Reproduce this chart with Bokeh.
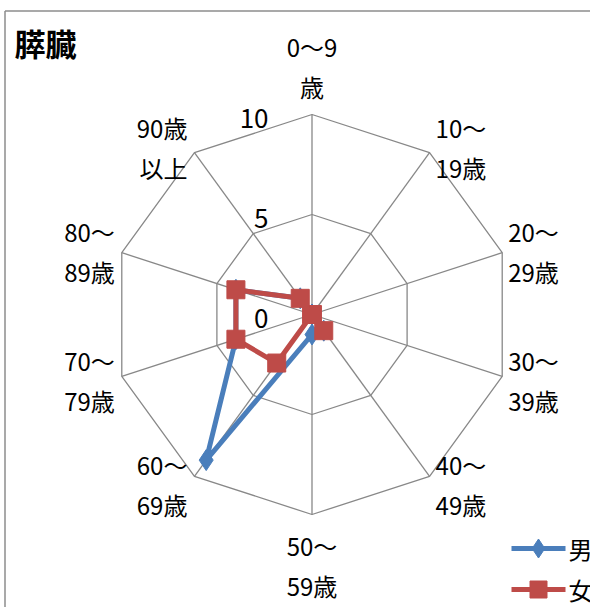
import math
from bokeh.plotting import figure
from bokeh.models import Range1d
from bokeh.core.properties import value
from bokeh.embed import file_html
from bokeh.resources import INLINE

# ---------------- data ----------------
title = "膵臓"
categories = ["0～9\n歳", "10～\n19歳", "20～\n29歳", "30～\n39歳", "40～\n49歳",
              "50～\n59歳", "60～\n69歳", "70～\n79歳", "80～\n89歳", "90歳\n以上"]
series_names = ["男", "女"]
male = [0, 0, 0, 0, 1, 1, 9, 4, 4, 1]
female = [0, 0, 0, 0, 1, 0, 3, 4, 4, 1]
ticks = [0, 5, 10]
tick_labels = ["0", "5", "10"]
vmax = 10

# ---------------- layout / style ----------------
W, H = 590, 607
OX, OY = 0, 0              # page position of figure's top-left corner
CX, CY = 311.5, 314.0      # page position of radar centre
S = 20.0                   # pixels per unit
FONT = value("Noto Sans CJK JP")
GRID = "#888888"
BLUE = "#4a7ebb"
RED = "#be4b48"

p = figure(width=W, height=H,
           x_range=Range1d(OX - CX, OX + W - CX),
           y_range=Range1d(CY - (OY + H), CY - OY),
           x_axis_type=None, y_axis_type=None,
           output_backend="svg", toolbar_location=None, min_border=0)
p.grid.visible = False
p.outline_line_color = None
p.background_fill_color = "white"
p.border_fill_color = "white"

def px(page_x):
    return page_x - CX

def py(page_y):
    return CY - page_y

n = len(categories)
ang = [2 * math.pi * i / n for i in range(n)]

def polar(vals):
    xs = [v * S * math.sin(a) for v, a in zip(vals, ang)]
    ys = [v * S * math.cos(a) for v, a in zip(vals, ang)]
    return xs, ys

# chart area border (top and left)
p.segment(x0=[px(4.5), px(4.5)], y0=[py(10.5), py(10.5)],
          x1=[px(620), px(4.5)], y1=[py(10.5), py(640)],
          line_color="#8c8c8c", line_width=1.5)

# rings and spokes
for t in ticks[1:]:
    xs, ys = polar([t] * n)
    p.line(xs + xs[:1], ys + ys[:1], line_color=GRID, line_width=1.3)
sx, sy = polar([vmax] * n)
p.segment(x0=[0] * n, y0=[0] * n, x1=sx, y1=sy, line_color=GRID, line_width=1.3)

# tick labels
p.text(x=[-43.5] * len(ticks), y=[t * S - 3.5 for t in ticks], text=tick_labels,
       text_font=FONT, text_font_size="26px", text_color="#000000",
       text_align="right", text_baseline="middle")

# series
mx, my = polar(male)
p.line(mx + mx[:1], my + my[:1], line_color=BLUE, line_width=5)
p.scatter(mx, my, marker="diamond", size=21, fill_color=BLUE, line_color=BLUE)
fx, fy = polar(female)
p.line(fx + fx[:1], fy + fy[:1], line_color=RED, line_width=5)
p.scatter(fx, fy, marker="square", size=18, fill_color=RED, line_color=RED)

# category labels (two lines each)
l1 = [c.split("\n")[0] for c in categories]
l2 = [c.split("\n")[1] for c in categories]
vx, vy = polar([vmax] * n)
for i in range(n):
    sa = math.sin(ang[i])
    ca = math.cos(ang[i])
    if abs(sa) < 1e-6:
        align = "center"
        x = vx[i]
        yc = vy[i] + (48 if ca > 0 else -51)
    else:
        align = "left" if sa > 0 else "right"
        x = vx[i] + (6 if sa > 0 else -7)
        yc = vy[i] - (1.5 - 8 * ca)
    p.text(x=[x, x], y=[yc + 19.75, yc - 19.75], text=[l1[i], l2[i]],
           text_font=FONT, text_font_size="24px", text_color="#000000",
           text_align=align, text_baseline="middle")

# title
p.text(x=[px(14)], y=[py(42)], text=[title], text_font=FONT, text_font_size="31px",
       text_font_style="bold", text_color="#000000", text_align="left",
       text_baseline="middle")

# legend
leg_y = [py(548), py(589)]
leg_colors = [BLUE, RED]
leg_markers = ["diamond", "square"]
leg_sizes = [19, 17]
for k in range(2):
    p.line([px(511), px(565)], [leg_y[k], leg_y[k]], line_color=leg_colors[k], line_width=5)
    p.scatter([px(538)], [leg_y[k]], marker=leg_markers[k], size=leg_sizes[k],
              fill_color=leg_colors[k], line_color=leg_colors[k])
    p.text(x=[px(568)], y=[leg_y[k]], text=[series_names[k]], text_font=FONT,
           text_font_size="24px", text_color="#000000", text_align="left",
           text_baseline="middle")

open("out.html", "w").write(file_html(p, INLINE))
